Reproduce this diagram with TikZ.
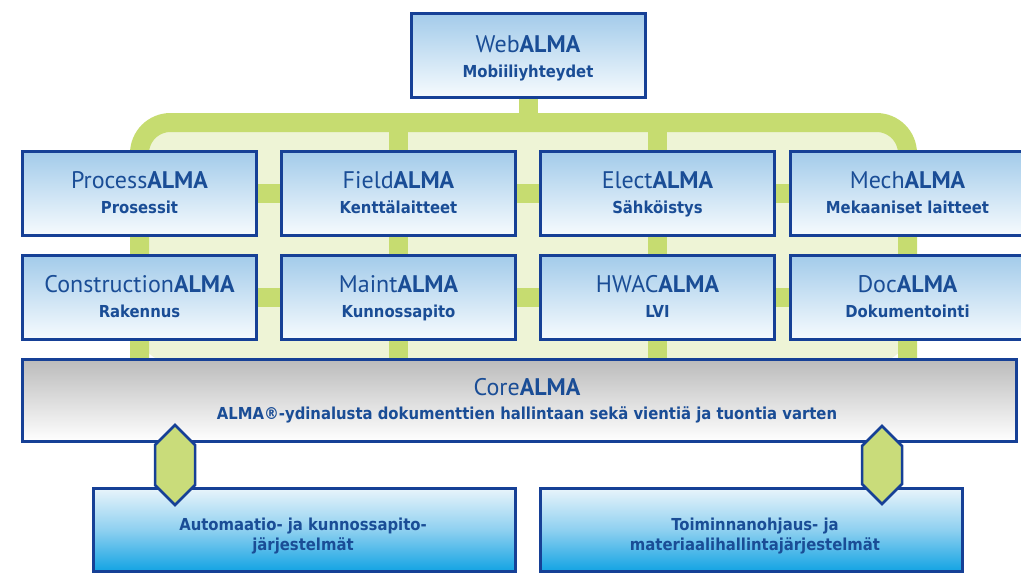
\documentclass[tikz,border=0pt]{standalone}
\usepackage{fontspec}
\usetikzlibrary{shadows,backgrounds}
\newfontfamily\ttlfont{PT Sans}
\newfontfamily\subfont{DejaVu Sans Condensed}
\definecolor{bdr}{HTML}{164096}
\definecolor{txt}{HTML}{1A4D96}
\definecolor{boxtop}{HTML}{A3CBEA}
\definecolor{boxbot}{HTML}{F7FBFE}
\definecolor{grn}{HTML}{C6DC70}
\definecolor{lgrn}{HTML}{EEF4D6}
\definecolor{hexg}{HTML}{C9DC7A}
\definecolor{coretop}{HTML}{BBBBBB}
\definecolor{corebot}{HTML}{FFFFFF}
\definecolor{bottop}{HTML}{E8F4FB}
\definecolor{botmid}{HTML}{8ED0F0}
\definecolor{botbot}{HTML}{12A3E3}
\tikzset{
  box/.style={draw=bdr, line width=3pt, top color=boxtop, bottom color=boxbot,
    minimum width=234pt, minimum height=84pt, inner sep=0pt,
    drop shadow={opacity=0.25, shadow xshift=1.5pt, shadow yshift=-1.5pt}},
  corebox/.style={box, top color=coretop, bottom color=corebot, minimum width=994pt, minimum height=82pt},
  botbox/.style={box, top color=bottop, bottom color=botbot, middle color=botmid, minimum width=422pt, minimum height=83pt},
  ttl/.style={anchor=base, text=txt, font=\ttlfont\fontsize{24}{28}\selectfont, inner sep=0pt},
  sub/.style={anchor=base, text=txt, font=\subfont\bfseries\fontsize{16.5}{20}\selectfont, inner sep=0pt},
  band/.style={draw=grn, line width=19pt},
  hexa/.style={draw=bdr, line width=2.5pt, fill=hexg, line join=miter},
}
\begin{document}
\begin{tikzpicture}[x=1pt,y=-1pt]
\useasboundingbox (0,0) rectangle (1021,584);
% web
\node[box] (web) at (528,55.5) {};
\node[ttl] (web-t) at (528,52) {Web\textbf{ALMA}};
\node[sub] (web-s) at (528,77) {Mobiiliyhteydet};
% row 1
\node[box] (proc) at (139.5,193.5) {};
\node[box] (field) at (398.5,193.5) {};
\node[box] (elect) at (657.5,193.5) {};
\node[box] (mech) at (907.5,193.5) {};
\node[ttl] (proc-t) at (139.5,188) {Process\textbf{ALMA}};
\node[sub] (proc-s) at (139.5,213) {Prosessit};
\node[ttl] (field-t) at (398.5,188) {Field\textbf{ALMA}};
\node[sub] (field-s) at (398.5,213) {Kenttälaitteet};
\node[ttl] (elect-t) at (657.5,188) {Elect\textbf{ALMA}};
\node[sub] (elect-s) at (657.5,213) {Sähköistys};
\node[ttl] (mech-t) at (907.5,188) {Mech\textbf{ALMA}};
\node[sub] (mech-s) at (907.5,213) {Mekaaniset laitteet};
% row 2
\node[box] (cons) at (139.5,297.5) {};
\node[box] (maint) at (398.5,297.5) {};
\node[box] (hwac) at (657.5,297.5) {};
\node[box] (doc) at (907.5,297.5) {};
\node[ttl] (cons-t) at (139.5,292) {Construction\textbf{ALMA}};
\node[sub] (cons-s) at (139.5,317) {Rakennus};
\node[ttl] (maint-t) at (398.5,292) {Maint\textbf{ALMA}};
\node[sub] (maint-s) at (398.5,317) {Kunnossapito};
\node[ttl] (hwac-t) at (657.5,292) {HWAC\textbf{ALMA}};
\node[sub] (hwac-s) at (657.5,317) {LVI};
\node[ttl] (doc-t) at (907.5,292) {Doc\textbf{ALMA}};
\node[sub] (doc-s) at (907.5,317) {Dokumentointi};
% core
\node[corebox] (core) at (519.5,400.5) {};
\node[ttl] (core-t) at (527,395) {Core\textbf{ALMA}};
\node[sub] (core-s) at (527,419) {ALMA®-ydinalusta dokumenttien hallintaan sekä vientiä ja tuontia varten};
% bottom
\node[botbox] (auto) at (304.5,530) {};
\node[botbox] (erp) at (751.5,530) {};
\node[sub] (auto-1) at (303,530) {Automaatio- ja kunnossapito-};
\node[sub] (auto-2) at (303,550) {järjestelmät};
\node[sub] (erp-1) at (755,530) {Toiminnanohjaus- ja};
\node[sub] (erp-2) at (755,550) {materiaalihallintajärjestelmät};
% green frame behind the boxes
\begin{scope}[on background layer]
\fill[lgrn, rounded corners=31pt] (139.5,122.5) rectangle (907.5,362);
\coordinate (fl) at (139.5,362);
\coordinate (fr) at (907.5,362);
\coordinate (ftl) at (139.5,122.5);
\coordinate (ftr) at (907.5,122.5);
\coordinate (stemtop) at (528,122.5);
\draw[band] (field.north) -- (core.north -| field.north);
\draw[band] (elect.north) -- (core.north -| elect.north);
\draw[band] (proc.east) -- (mech.west);
\draw[band] (cons.east) -- (doc.west);
\draw[band, rounded corners=31pt] (fl) -- (ftl) -- (ftr) -- (fr);
\draw[band] (field.north) -- (field.north |- ftl);
\draw[band] (elect.north) -- (elect.north |- ftl);
\draw[band] (web.south) -- (stemtop);
\end{scope}
% hexagon connectors
\draw[hexa] (155,445) -- (175,425) -- (195,445) -- (195,485) -- (175,505) -- (155,485) -- cycle;
\draw[hexa] (862,446) -- (882,426) -- (902,446) -- (902,484) -- (882,504) -- (862,484) -- cycle;
\end{tikzpicture}
\end{document}
